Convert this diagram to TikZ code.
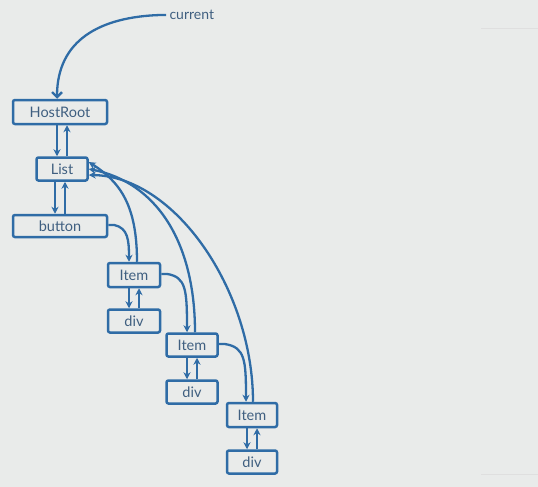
\documentclass[tikz,border=0pt]{standalone}
\usepackage{fontspec}
\setmainfont{Lato}
\usetikzlibrary{arrows.meta}
\definecolor{bg}{HTML}{E9EBEA}
\definecolor{ln}{HTML}{2F6CA6}
\definecolor{tx}{HTML}{3F5F80}
\begin{document}
\begin{tikzpicture}[x=1pt,y=-1pt,
  fbox/.style={draw=ln,line width=2.5pt,rounded corners=2pt,inner sep=0pt,
     text=tx,font=\fontsize{14.5}{16}\selectfont},
  link/.style={draw=ln,line width=2.3pt,-{Stealth[length=7pt,width=7pt]}},
  barb/.style={draw=ln,line width=2.3pt,-{Straight Barb[length=5pt,width=10pt]}}]
\fill[bg] (0,0) rectangle (538,487);
\useasboundingbox (0,0) rectangle (538,487);
\draw[gray!25,line width=1pt] (481,29) -- (538,29);
\draw[gray!25,line width=1pt] (481,474) -- (538,474);
% nodes
\node[fbox,minimum width=94pt,minimum height=24pt] (host) at (60,112) {HostRoot};
\node[fbox,minimum width=51pt,minimum height=23pt] (list) at (62,169) {List};
\node[fbox,minimum width=94pt,minimum height=22pt] (button) at (60,226) {button};
\node[fbox,minimum width=52pt,minimum height=24pt] (item1) at (134,275) {Item};
\node[fbox,minimum width=52pt,minimum height=23pt] (div1) at (134,321) {div};
\node[fbox,minimum width=51pt,minimum height=23pt] (item2) at (192,345) {Item};
\node[fbox,minimum width=51pt,minimum height=23pt] (div2) at (192,392) {div};
\node[fbox,minimum width=50pt,minimum height=24pt] (item3) at (252,415) {Item};
\node[fbox,minimum width=50pt,minimum height=23pt] (div3) at (252,462) {div};
\node[text=tx,font=\fontsize{14}{16}\selectfont,anchor=west] (cur) at (166,15) {current};
% current arrow
\draw[barb] (cur.west) -- ++(-6,0) .. controls (100,17) and (57,40) .. (host.north -| 57,0);
% parent/child pairs
\foreach \a/\b in {host/list,list/button,item1/div1,item2/div2,item3/div3}{
  \draw[link] ([xshift=-5pt]\b.north |- \a.south) -- ([xshift=-5pt]\b.north);
  \draw[link] ([xshift=5pt]\b.north) -- ([xshift=5pt]\b.north |- \a.south);
}
% sibling arrows
\draw[link] ([yshift=1pt]button.east) -- ++(6,0) .. controls (128,228) and (129,240) .. ([xshift=-5pt]item1.north);
\draw[link] ([yshift=1pt]item1.east) -- ++(6,0) .. controls (186,277) and (187,290) .. ([xshift=-5pt]item2.north);
\draw[link] ([yshift=1pt]item2.east) -- ++(6,0) .. controls (245,347) and (246,360) .. ([xshift=-6pt]item3.north);
% return arrows
\draw[link] ([xshift=3pt]item1.north) .. controls (137,205) and (120,182) .. ([yshift=7pt]list.east);
\draw[link] ([xshift=3pt]item2.north) .. controls (195,240) and (155,182) .. ([yshift=0pt]list.east);
\draw[link] ([xshift=1pt]item3.north) .. controls (253,290) and (175,176) .. ([yshift=-6pt]list.east);
\end{tikzpicture}
\end{document}
